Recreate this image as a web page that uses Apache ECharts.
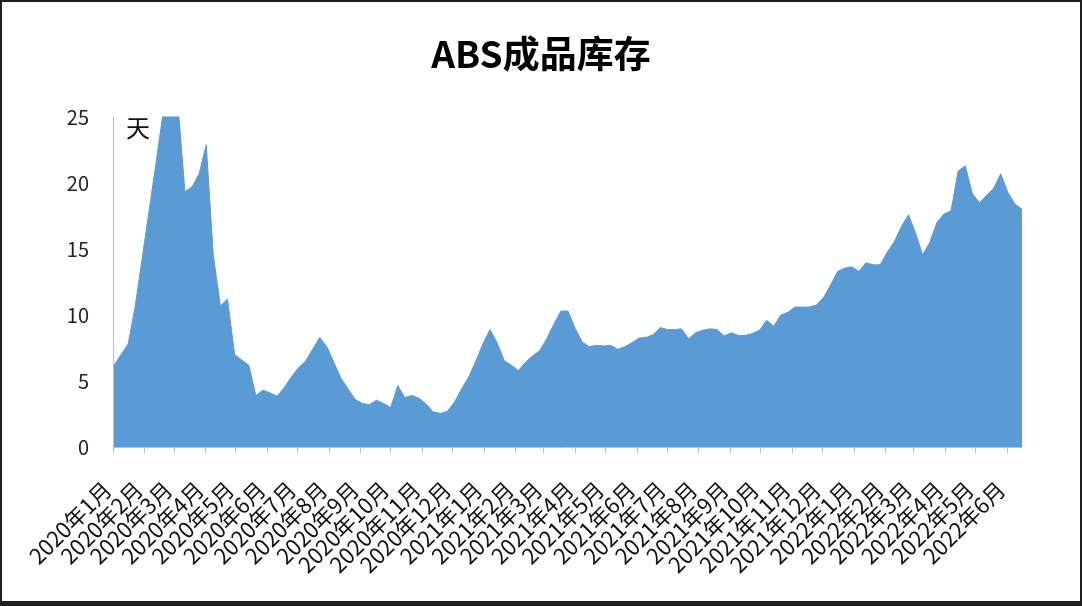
<!DOCTYPE html>
<html>
<head>
<meta charset="utf-8">
<script src="https://cdn.jsdelivr.net/npm/echarts@6/dist/echarts.min.js"></script>
<style>
html,body{margin:0;padding:0;background:#fff;}
#chart{position:absolute;left:0;top:0;width:1082px;height:606px;}
#frame{position:absolute;left:0;top:0;width:1082px;height:606px;box-sizing:border-box;border:2px solid #1e1e1e;border-bottom-width:5px;pointer-events:none;}
</style>
</head>
<body>
<div id="chart"></div>
<div id="frame"></div>
<script>
const titleText = 'ABS成品库存';
const unitText = '天';

// weekly observation dates
const dates = [
'2020-01-02','2020-01-09','2020-01-16','2020-01-23','2020-01-30','2020-02-06','2020-02-13','2020-02-20','2020-02-27',
'2020-03-05','2020-03-12','2020-03-19','2020-03-26','2020-04-02','2020-04-09','2020-04-16','2020-04-23','2020-04-30',
'2020-05-07','2020-05-14','2020-05-21','2020-05-28','2020-06-04','2020-06-11','2020-06-18','2020-06-25',
'2020-07-02','2020-07-09','2020-07-16','2020-07-23','2020-07-30','2020-08-06','2020-08-13','2020-08-20','2020-08-27',
'2020-09-03','2020-09-10','2020-09-17','2020-09-24','2020-10-01','2020-10-08','2020-10-15','2020-10-22','2020-10-29',
'2020-11-05','2020-11-12','2020-11-19','2020-11-26','2020-12-03','2020-12-10','2020-12-17','2020-12-24','2020-12-31',
'2021-01-07','2021-01-14','2021-01-21','2021-01-28','2021-02-04','2021-02-11','2021-02-18','2021-02-25',
'2021-03-04','2021-03-11','2021-03-18','2021-03-25','2021-04-01','2021-04-08','2021-04-15','2021-04-22','2021-04-29',
'2021-05-06','2021-05-13','2021-05-20','2021-05-27','2021-06-03','2021-06-10','2021-06-17','2021-06-24',
'2021-07-01','2021-07-08','2021-07-15','2021-07-22','2021-07-29','2021-08-05','2021-08-12','2021-08-19','2021-08-26',
'2021-09-02','2021-09-09','2021-09-16','2021-09-23','2021-09-30','2021-10-07','2021-10-14','2021-10-21','2021-10-28',
'2021-11-04','2021-11-11','2021-11-18','2021-11-25','2021-12-02','2021-12-09','2021-12-16','2021-12-23','2021-12-30',
'2022-01-06','2022-01-13','2022-01-20','2022-01-27','2022-02-03','2022-02-10','2022-02-17','2022-02-24',
'2022-03-03','2022-03-10','2022-03-17','2022-03-24','2022-03-31','2022-04-07','2022-04-14','2022-04-21','2022-04-28',
'2022-05-05','2022-05-12','2022-05-19','2022-05-26','2022-06-02','2022-06-09','2022-06-16'
];

// finished-goods inventory, days
const inventoryDays = [
6.2, 7.0, 7.8, 10.7, 14.4, 18.1, 21.8, 25.6, 27, 26,
19.35, 19.7, 20.7, 22.9, 14.5, 10.7, 11.2, 7.0, 6.6, 6.2,
3.9, 4.3, 4.1, 3.85, 4.5, 5.3, 6.0, 6.5, 7.4, 8.3,
7.6, 6.4, 5.2, 4.4, 3.6, 3.3, 3.2, 3.55, 3.3, 3.0,
4.65, 3.75, 3.9, 3.7, 3.25, 2.65, 2.55, 2.7, 3.4, 4.4,
5.3, 6.5, 7.8, 8.9, 7.9, 6.55, 6.2, 5.8, 6.4, 6.9,
7.3, 8.2, 9.3, 10.3, 10.3, 9.0, 7.95, 7.6, 7.7, 7.65,
7.7, 7.4, 7.6, 7.9, 8.25, 8.3, 8.5, 9.05, 8.9, 8.9,
8.95, 8.2, 8.65, 8.85, 8.95, 8.9, 8.4, 8.65, 8.45, 8.45,
8.6, 8.85, 9.6, 9.15, 10.0, 10.2, 10.6, 10.6, 10.6, 10.75,
11.3, 12.25, 13.3, 13.55, 13.65, 13.3, 13.95, 13.8, 13.8, 14.75,
15.55, 16.7, 17.6, 16.2, 14.55, 15.5, 17.0, 17.65, 17.9, 20.9,
21.3, 19.2, 18.5, 19.05, 19.6, 20.7, 19.3, 18.4, 18.0
];

// month tick labels (2020年1月 ... 2022年6月)
const monthLabels = [
'2020年1月','2020年2月','2020年3月','2020年4月','2020年5月','2020年6月','2020年7月','2020年8月','2020年9月','2020年10月','2020年11月','2020年12月',
'2021年1月','2021年2月','2021年3月','2021年4月','2021年5月','2021年6月','2021年7月','2021年8月','2021年9月','2021年10月','2021年11月','2021年12月',
'2022年1月','2022年2月','2022年3月','2022年4月','2022年5月','2022年6月'
];

const yTicks = [0, 5, 10, 15, 20, 25];

const FONT = '"Noto Sans CJK SC", "Noto Sans", sans-serif';
const DAY = 86400000;

const chart = echarts.init(document.getElementById('chart'), null, {renderer: 'canvas'});
chart.setOption({
  backgroundColor: '#ffffff',
  animation: false,
  title: {
    text: titleText,
    left: 'center',
    top: 30,
    textStyle: {fontFamily: FONT, fontSize: 37, fontWeight: 'bold', color: '#000'}
  },
  grid: {left: 113, right: 60, top: 117, bottom: 159},
  xAxis: {
    type: 'time',
    min: '2020-01-01',
    max: dates[dates.length - 1],
    minInterval: 28 * DAY,
    maxInterval: 31 * DAY,
    axisLine: {show: true, lineStyle: {color: '#bfbfbf', width: 1}},
    axisTick: {show: true, length: 6, lineStyle: {color: '#bfbfbf'}},
    splitLine: {show: false},
    axisLabel: {
      rotate: 45,
      margin: 33,
      padding: [0, 8, 0, 0],
      hideOverlap: false,
      showMaxLabel: false,
      fontFamily: FONT,
      fontSize: 22,
      color: '#111',
      formatter: function (val) {
        const d = new Date(val);
        if (d.getDate() !== 1) return '';
        const idx = (d.getFullYear() - 2020) * 12 + d.getMonth();
        return monthLabels[idx] || '';
      }
    }
  },
  yAxis: {
    type: 'value',
    min: yTicks[0],
    max: yTicks[yTicks.length - 1],
    interval: 5,
    axisLine: {show: true, lineStyle: {color: '#bfbfbf', width: 1}},
    axisTick: {show: false},
    splitLine: {show: false},
    axisLabel: {margin: 24, fontFamily: FONT, fontSize: 20, color: '#222'}
  },
  graphic: [{
    type: 'text',
    left: 126,
    top: 116,
    style: {text: unitText, font: '24px ' + FONT, fill: '#111'}
  }],
  series: [{
    type: 'line',
    data: dates.map((d, i) => [d, inventoryDays[i]]),
    symbol: 'none',
    clip: true,
    lineStyle: {color: '#5b9bd5', width: 1},
    areaStyle: {color: '#5b9bd5', opacity: 1},
    itemStyle: {color: '#5b9bd5'}
  }]
});
</script>
</body>
</html>
